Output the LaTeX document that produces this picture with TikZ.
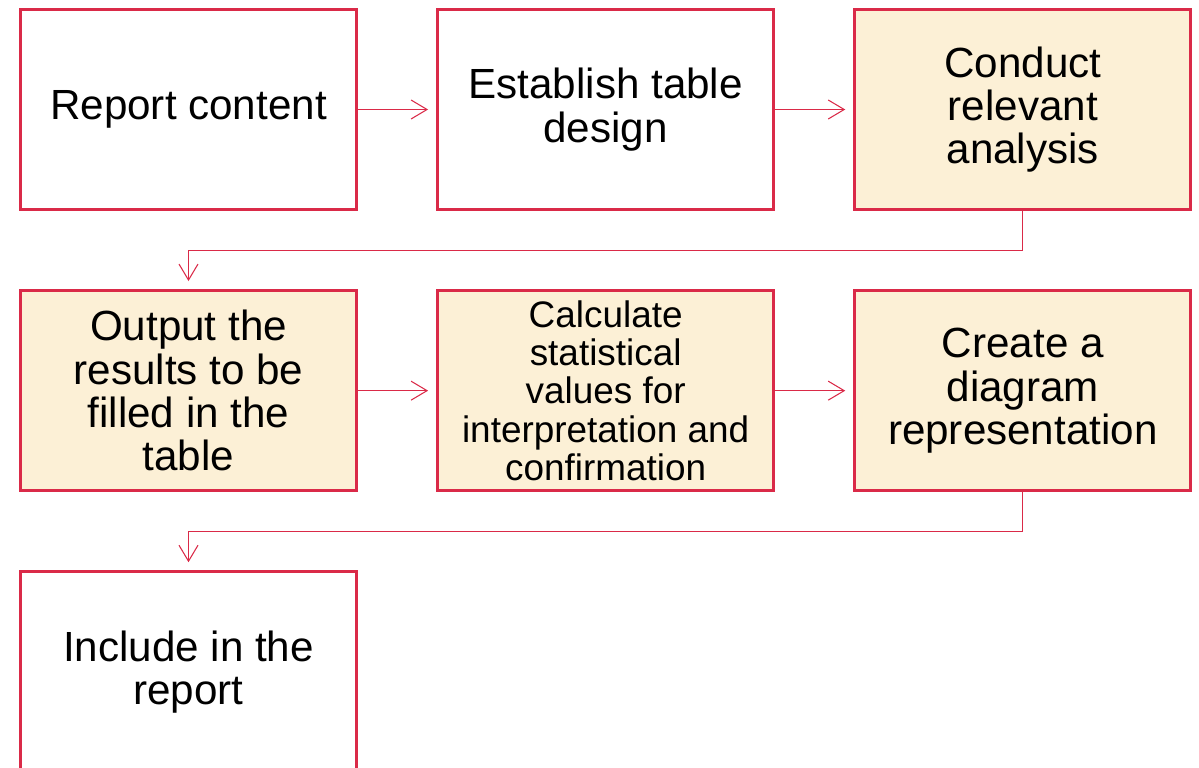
\documentclass[tikz,border=0pt]{standalone}
\usepackage{fontspec}
\setmainfont{Liberation Sans}
\usetikzlibrary{arrows.meta, positioning}
\definecolor{boxred}{HTML}{DA2A48}
\definecolor{boxfill}{HTML}{FCF0D6}

\begin{document}
\begin{tikzpicture}[
        stepbox/.style={rectangle, draw=boxred, line width=1.8pt, minimum width=6.72cm, minimum height=4cm, align=center, font=\fontsize{24}{24.7}\selectfont},
        done/.style={stepbox, fill=boxfill},
        flow/.style={draw=boxred, line width=0.6pt, shorten >=1.6mm, -{Straight Barb[length=3.2mm, width=3.8mm]}},
        node distance=1.56cm
    ]
    
    % 画布范围
    \useasboundingbox (0,0) rectangle (23.98,-15.36);
    \clip (0,0) rectangle (23.98,-15.36);
    
    % 第一行
    \node[stepbox] (report) at (3.77,-2.19) {Report content};
    \node[stepbox, right=of report] (design) {Establish table\\design};
    \node[done, right=of design] (analysis) {Conduct\\relevant\\analysis};
    
    % 第二行
    \node[done, below=of report] (output) {Output the\\results to be\\filled in the\\table};
    \node[done, right=of output, font=\fontsize{21}{21.8}\selectfont] (calc) {Calculate\\statistical\\values for\\interpretation and\\confirmation};
    \node[done, right=of calc] (diagram) {Create a\\diagram\\representation};
    
    % 第三行
    \node[stepbox, below=of output] (include) {Include in the\\report};
    
    % 连线
    \draw[flow] (report) -- (design);
    \draw[flow] (design) -- (analysis);
    \draw[flow] (analysis.south) -- ++(0,-0.78) -| (output.north);
    \draw[flow] (output) -- (calc);
    \draw[flow] (calc) -- (diagram);
    \draw[flow] (diagram.south) -- ++(0,-0.78) -| (include.north);
    
\end{tikzpicture}
\end{document}
